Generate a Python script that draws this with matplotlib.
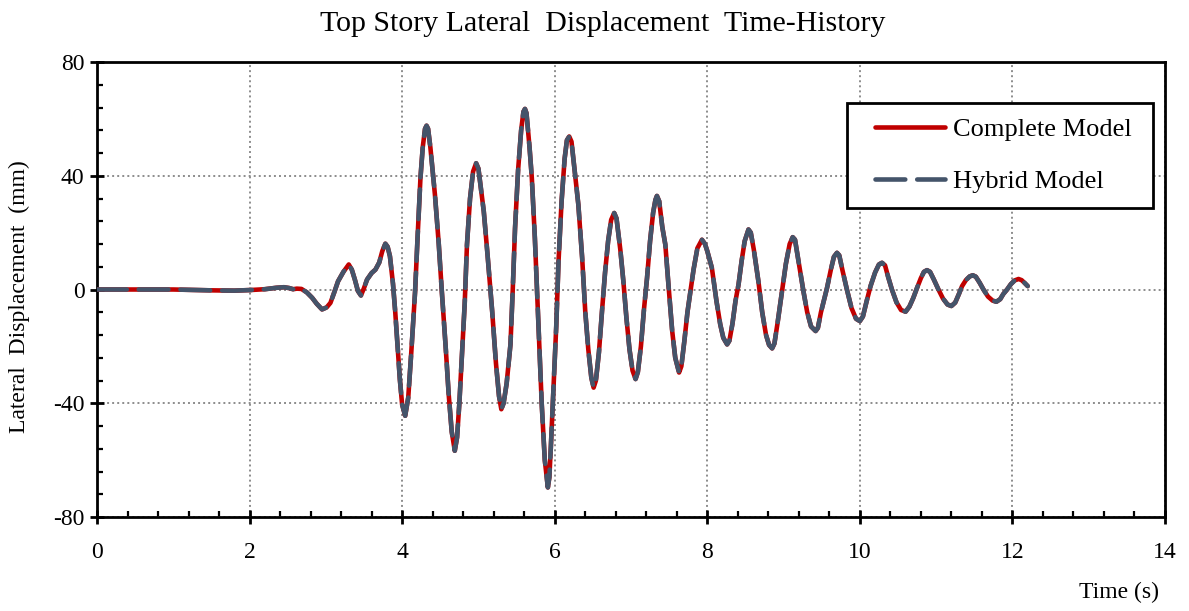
import matplotlib
matplotlib.use("Agg")
import matplotlib.pyplot as plt
from matplotlib.ticker import MultipleLocator
from matplotlib.patches import Rectangle

plt.rcParams['font.family'] = ['Liberation Serif', 'DejaVu Serif']
plt.rcParams['axes.unicode_minus'] = False

# ---- data ----
time_s = [
    0.00, 0.50, 1.00, 1.50, 1.80, 2.00, 2.20, 2.35, 2.45, 2.52, 2.57, 2.62, 2.68,
    2.75, 2.82, 2.88, 2.95, 3.01, 3.06, 3.11, 3.16, 3.23, 3.30, 3.34, 3.38, 3.42,
    3.46, 3.50, 3.54, 3.60, 3.65, 3.70, 3.74, 3.78, 3.81, 3.84, 3.88, 3.91, 3.94,
    3.97, 4.00, 4.04,
    4.08, 4.12, 4.17, 4.20, 4.24, 4.27, 4.30, 4.32, 4.34,
    4.37, 4.43, 4.48, 4.52, 4.57, 4.61, 4.65, 4.69, 4.72,
    4.75, 4.78, 4.82, 4.85, 4.89, 4.93, 4.97, 5.00,
    5.03, 5.07, 5.12, 5.18, 5.23, 5.27, 5.30, 5.33,
    5.37, 5.42, 5.45, 5.48, 5.52, 5.56, 5.59, 5.61, 5.63,
    5.67, 5.70, 5.74, 5.77, 5.80, 5.83, 5.87, 5.91, 5.93,
    5.95, 5.98, 6.02, 6.05, 6.09, 6.13, 6.16, 6.19, 6.22,
    6.26, 6.31, 6.36, 6.40, 6.44, 6.48, 6.51, 6.54,
    6.58, 6.62, 6.66, 6.70, 6.74, 6.78, 6.81,
    6.86, 6.90, 6.94, 6.98, 7.02, 7.06, 7.09,
    7.13, 7.17, 7.21, 7.25, 7.29, 7.32, 7.34, 7.37,
    7.41, 7.45, 7.49, 7.54, 7.58, 7.63, 7.66,
    7.70, 7.74, 7.78, 7.82, 7.87, 7.93, 7.97,
    8.00, 8.06, 8.12, 8.17, 8.21, 8.26, 8.29,
    8.33, 8.37, 8.41, 8.45, 8.49, 8.54, 8.57,
    8.61, 8.67, 8.72, 8.77, 8.81, 8.85, 8.88,
    8.92, 8.98, 9.03, 9.08, 9.12, 9.15,
    9.19, 9.26, 9.31, 9.36, 9.42, 9.45,
    9.49, 9.57, 9.62, 9.66, 9.70, 9.73,
    9.77, 9.83, 9.89, 9.95, 10.00, 10.04,
    10.09, 10.14, 10.20, 10.25, 10.29, 10.33,
    10.37, 10.42, 10.48, 10.54, 10.60, 10.65,
    10.70, 10.75, 10.80, 10.84, 10.88, 10.92,
    10.97, 11.03, 11.09, 11.15, 11.20, 11.25,
    11.30, 11.34, 11.39, 11.44, 11.48, 11.52,
    11.57, 11.62, 11.68, 11.74, 11.79, 11.84,
    11.88, 11.93, 11.98, 12.03, 12.08, 12.12, 12.16, 12.20,
]

complete_disp = [
    0.0, 0.0, 0.0, -0.3, -0.4, -0.2, 0.1, 0.6, 0.8, 0.5, 0.1, 0.3, 0.2,
    -1.0, -2.9, -5.0, -7.0, -6.3, -4.7, -1.0, 2.9, 6.2, 8.8, 7.0, 3.5, -0.5,
    -2.1, 0.5, 3.5, 5.8, 7.0, 9.5, 13.5, 16.1, 15.0, 11.7, 2.0, -8.1, -20.0,
    -31.6, -40.5, -44.4,
    -38.0, -22.0, -0.6, 17.0, 39.2, 50.0, 56.5, 57.6, 56.5,
    50.0, 33.3, 16.0, -0.6, -20.0, -36.8, -50.0, -56.7, -52.0,
    -40.0, -25.1, -5.0, 15.8, 32.0, 41.5, 44.4, 42.5,
    36.0, 27.5, 12.0, -7.6, -26.0, -37.5, -42.1, -40.0,
    -33.0, -19.3, 0.0, 21.6, 42.0, 56.0, 62.5, 63.5, 62.0,
    50.0, 39.2, 18.0, -1.8, -21.0, -40.4, -60.0, -69.6, -66.0,
    -55.0, -36.8, -13.0, 9.9, 31.0, 46.0, 52.5, 53.8, 52.0,
    42.0, 29.8, 11.0, -7.6, -21.0, -31.0, -34.5, -32.0,
    -22.0, -7.6, 6.0, 17.0, 24.5, 26.9, 25.0,
    14.0, 2.9, -10.0, -21.0, -28.5, -31.5, -29.0,
    -20.0, -7.0, 4.0, 17.0, 27.0, 31.5, 32.9, 31.0,
    22.0, 15.8, 2.0, -14.6, -24.0, -29.2, -27.0,
    -18.0, -8.0, -0.6, 7.0, 14.5, 17.5, 16.0,
    13.5, 7.6, -4.0, -12.3, -17.0, -19.3, -18.0,
    -12.0, -4.0, 1.8, 10.0, 17.0, 21.1, 20.0,
    14.0, 2.9, -8.0, -16.0, -19.5, -20.7, -19.0,
    -12.0, -0.6, 9.0, 16.0, 18.4, 17.5,
    11.0, -0.6, -8.0, -13.0, -14.6, -13.5,
    -8.0, 0.6, 7.0, 11.5, 12.9, 12.0,
    7.0, 0.0, -6.5, -10.3, -11.1, -9.5,
    -4.0, 1.2, 6.0, 8.8, 9.4, 8.5,
    4.5, 0.0, -4.5, -7.2, -7.8, -6.0,
    -3.0, 0.6, 4.0, 6.2, 6.8, 6.2,
    3.5, 0.0, -3.2, -5.3, -5.8, -4.6,
    -1.5, 1.2, 3.3, 4.6, 5.0, 4.5,
    2.4, 0.0, -2.5, -3.9, -4.3, -3.4,
    -1.6, 0.0, 1.9, 3.2, 3.7, 3.3, 2.3, 1.2,
]

# Hybrid model response is indistinguishable from the complete model in the picture
hybrid_disp = list(complete_disp)

series_labels = ["Complete Model", "Hybrid Model"]
x_ticks = [0, 2, 4, 6, 8, 10, 12, 14]
y_ticks = [-80, -40, 0, 40, 80]

# ---- figure ----
fig = plt.figure(figsize=(11.89, 6.11), dpi=100)
ax = fig.add_axes([97 / 1189, 1 - 517 / 611, 1068 / 1189, 455 / 611])

ax.plot(time_s, complete_disp, color="#C00000", lw=3.3, solid_capstyle="round",
        solid_joinstyle="round", label=series_labels[0], zorder=3)
ax.plot(time_s, hybrid_disp, color="#44546A", lw=3.3, dashes=(6.5, 2.6),
        dash_capstyle="round", dash_joinstyle="round",
        label=series_labels[1], zorder=4)

ax.set_xlim(0, 14)
ax.set_ylim(-80, 80)
ax.set_xticks(x_ticks)
ax.set_yticks(y_ticks)
ax.xaxis.set_minor_locator(MultipleLocator(0.4))
ax.yaxis.set_minor_locator(MultipleLocator(8))

ax.grid(True, which="major", color="#8c8c8c", linestyle=(0, (1, 1.6)), lw=1.4)
for s in ax.spines.values():
    s.set_linewidth(2.0)
    s.set_color("black")

ax.tick_params(which="major", direction="inout", length=10, width=2.0,
               labelsize=17, colors="black")
ax.tick_params(axis="x", which="major", pad=13)
ax.tick_params(axis="y", which="major", pad=4)
ax.tick_params(which="minor", direction="in", length=4.5, width=1.6)
ax.tick_params(top=False, right=False, which="both")

ax.set_title("Top Story Lateral  Displacement  Time-History", fontsize=21.5,
             pad=22, x=0.474)
ax.set_xlabel("Time (s)", fontsize=17, loc="right")
ax.xaxis.set_label_coords(0.994, -0.143)
ax.set_ylabel("Lateral  Displacement  (mm)", fontsize=17)
ax.yaxis.set_label_coords(-0.063, 0.485)

# legend frame
box_l, box_b, box_r, box_t = 0.702, 0.679, 0.989, 0.910
ax.add_patch(Rectangle((box_l, box_b), box_r - box_l, box_t - box_b,
                       transform=ax.transAxes, facecolor="white",
                       edgecolor="black", lw=2.0, zorder=5))
leg = ax.legend(loc="center", bbox_to_anchor=((box_l + box_r) / 2 + 0.003,
                                              (box_b + box_t) / 2),
                fontsize=19, frameon=False, handlelength=2.65,
                handletextpad=0.3, labelspacing=1.1, borderpad=0,
                borderaxespad=0)
leg.set_zorder(6)

fig.savefig("out.png", dpi=100)
